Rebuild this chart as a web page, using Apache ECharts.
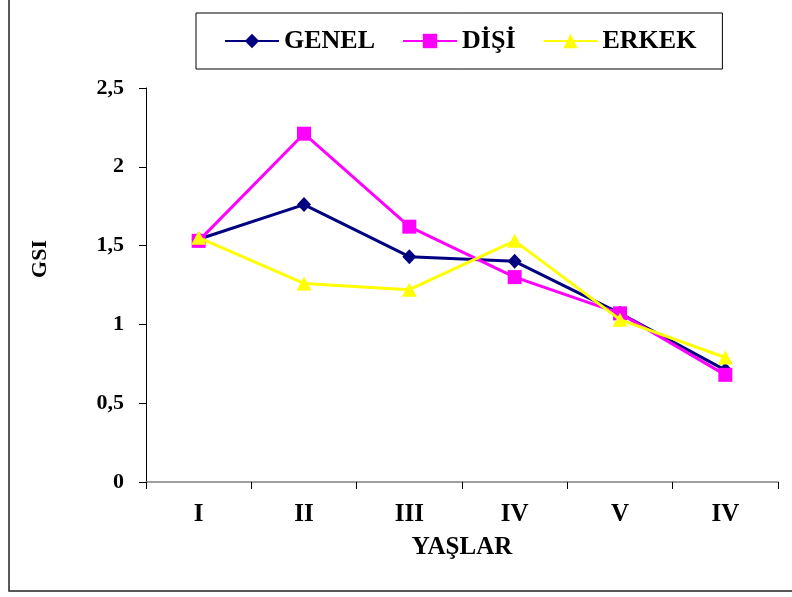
<!DOCTYPE html>
<html>
<head>
<meta charset="utf-8">
<script src="https://cdn.jsdelivr.net/npm/echarts@6/dist/echarts.min.js"></script>
<style>html,body{margin:0;padding:0;background:#fff}#c{width:792px;height:597px}</style>
</head>
<body>
<div id="c"></div>
<script>
var categories = ['I', 'II', 'III', 'IV', 'V', 'IV'];
var genel = [1.54, 1.76, 1.43, 1.40, 1.07, 0.71];
var disi = [1.53, 2.21, 1.62, 1.30, 1.07, 0.68];
var erkek = [1.55, 1.26, 1.22, 1.53, 1.03, 0.79];
var seriesNames = ['GENEL', 'DİŞİ', 'ERKEK'];
var xName = 'YAŞLAR';
var yName = 'GSI';

var font = 'Liberation Serif';
var chart = echarts.init(document.getElementById('c'), null, {renderer: 'canvas'});
chart.setOption({
  backgroundColor: '#fff',
  animation: false,
  grid: {left: 146, right: 14, top: 88, bottom: 115, containLabel: false},
  legend: {
    left: 196, top: 13,
    padding: [15, 26, 15, 28],
    itemGap: 27,
    itemWidth: 54, itemHeight: 18,
    borderColor: '#000', borderWidth: 1,
    textStyle: {fontFamily: font, fontWeight: 'bold', fontSize: 26, color: '#000'},
    data: seriesNames
  },
  xAxis: {
    type: 'category',
    data: categories,
    boundaryGap: true,
    name: xName,
    nameLocation: 'middle',
    nameGap: 53,
    nameTextStyle: {fontFamily: font, fontWeight: 'bold', fontSize: 25, color: '#000', verticalAlign: 'top'},
    axisLine: {lineStyle: {color: '#808080', width: 1.5}},
    axisTick: {show: true, alignWithLabel: false, length: 7, lineStyle: {color: '#000'}},
    axisLabel: {fontFamily: font, fontWeight: 'bold', fontSize: 25, color: '#000', margin: 20},
    splitLine: {show: false}
  },
  yAxis: {
    type: 'value',
    min: 0, max: 2.5, interval: 0.5,
    axisLine: {show: true, lineStyle: {color: '#000', width: 1}},
    axisTick: {show: true, inside: false, length: 7, lineStyle: {color: '#000'}},
    axisLabel: {fontFamily: font, fontWeight: 'bold', fontSize: 22, color: '#000', margin: 22,
      formatter: function (v) { return String(v).replace('.', ','); }},
    splitLine: {show: false}
  },
  graphic: [
    {type: 'text', left: 29, top: 240, rotation: Math.PI / 2,
      style: {text: yName, font: 'bold 22px "Liberation Serif"', fill: '#000'}, z: 10},
    {type: 'polyline', shape: {points: [[9, 0], [9, 591], [792, 591]]},
      style: {stroke: '#222', lineWidth: 1.5, fill: null}, z: 10}
  ],
  series: [
    {name: seriesNames[0], type: 'line', data: genel, symbol: 'diamond', symbolSize: [14, 15],
      itemStyle: {color: '#000080'}, lineStyle: {color: '#000080', width: 3}, z: 2},
    {name: seriesNames[1], type: 'line', data: disi, symbol: 'rect', symbolSize: 14,
      itemStyle: {color: '#FF00FF'}, lineStyle: {color: '#FF00FF', width: 3}, z: 3},
    {name: seriesNames[2], type: 'line', data: erkek, symbol: 'triangle', symbolSize: [15, 14],
      itemStyle: {color: '#FFFF00'}, lineStyle: {color: '#FFFF00', width: 3}, z: 4}
  ]
});
</script>
</body>
</html>
